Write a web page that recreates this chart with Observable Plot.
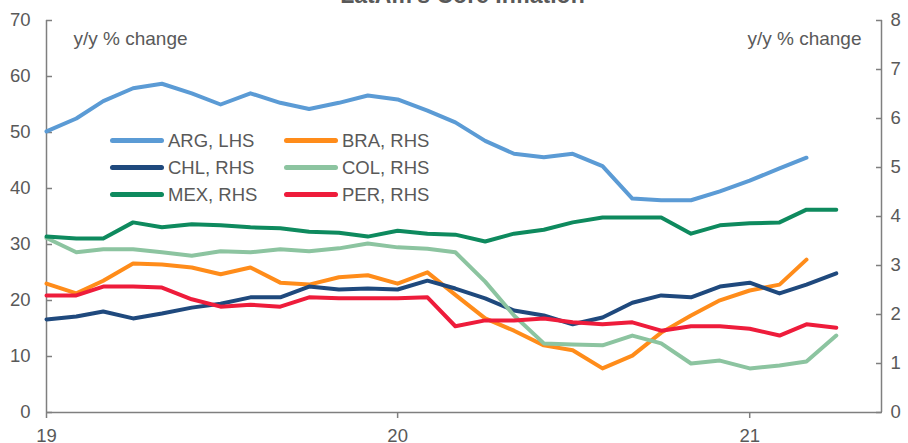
<!DOCTYPE html>
<html>
<head>
<meta charset="utf-8">
<script src="https://cdn.jsdelivr.net/npm/d3@7"></script>
<script src="https://cdn.jsdelivr.net/npm/@observablehq/plot@0.6"></script>
<style>
  body { margin: 0; background: #fff; }
  #wrap { position: relative; width: 908px; height: 443px; overflow: hidden; font-family: "Liberation Sans", Arial, sans-serif; }
  #wrap svg { position: absolute; left: 0; top: 0; }
  #legend { position: absolute; left: 110px; top: 127px; display: grid; grid-template-columns: 174px 174px; }
  .item { display: flex; align-items: center; height: 27px; font-size: 18.5px; color: #595959; }
  .sw { width: 54px; height: 5px; border-radius: 3px; margin-right: 4px; }
</style>
</head>
<body>
<div id="wrap"><div id="legend"></div></div>
<script>
// ---- data ----
const months = ["2019-01","2019-02","2019-03","2019-04","2019-05","2019-06","2019-07","2019-08","2019-09","2019-10","2019-11","2019-12",
                "2020-01","2020-02","2020-03","2020-04","2020-05","2020-06","2020-07","2020-08","2020-09","2020-10","2020-11","2020-12",
                "2021-01","2021-02","2021-03","2021-04"];
const arg = [50.2, 52.5, 55.6, 57.9, 58.7, 57.0, 55.0, 57.0, 55.3, 54.2, 55.3, 56.6, 55.9, 53.9, 51.8, 48.5, 46.2, 45.6, 46.2, 44.0, 38.2, 37.9, 37.9, 39.5, 41.4, 43.6, 45.5];
const bra = [2.63, 2.43, 2.69, 3.04, 3.02, 2.96, 2.82, 2.96, 2.65, 2.61, 2.76, 2.80, 2.63, 2.86, 2.40, 1.92, 1.67, 1.37, 1.27, 0.90, 1.16, 1.63, 1.98, 2.29, 2.49, 2.61, 3.12];
const chl = [1.90, 1.96, 2.06, 1.92, 2.02, 2.14, 2.22, 2.35, 2.35, 2.57, 2.51, 2.53, 2.51, 2.69, 2.53, 2.33, 2.08, 1.98, 1.80, 1.94, 2.24, 2.39, 2.35, 2.57, 2.65, 2.43, 2.61, 2.84];
const col = [3.56, 3.27, 3.33, 3.33, 3.27, 3.20, 3.29, 3.27, 3.33, 3.29, 3.35, 3.45, 3.37, 3.34, 3.27, 2.67, 1.98, 1.41, 1.39, 1.37, 1.57, 1.41, 1.00, 1.06, 0.90, 0.96, 1.04, 1.57];
const mex = [3.59, 3.55, 3.55, 3.88, 3.78, 3.84, 3.82, 3.78, 3.76, 3.69, 3.67, 3.59, 3.71, 3.65, 3.63, 3.49, 3.65, 3.73, 3.88, 3.98, 3.98, 3.98, 3.65, 3.82, 3.86, 3.88, 4.14, 4.14];
const per = [2.39, 2.39, 2.57, 2.57, 2.55, 2.31, 2.16, 2.20, 2.16, 2.35, 2.33, 2.33, 2.33, 2.35, 1.76, 1.88, 1.88, 1.92, 1.84, 1.80, 1.84, 1.67, 1.76, 1.76, 1.71, 1.57, 1.80, 1.73];

const seriesNames = ["ARG, LHS", "BRA, RHS", "CHL, RHS", "COL, RHS", "MEX, RHS", "PER, RHS"];
const seriesValues = [arg, bra, chl, col, mex, per];
const seriesAxis = ["L", "R", "R", "R", "R", "R"];
const seriesColors = ["#5b9bd5", "#ff8c1a", "#1f497d", "#8cc4a0", "#0e8a5e", "#ee1c3b"];

const leftTicks = [0, 10, 20, 30, 40, 50, 60, 70];
const rightTicks = [0, 1, 2, 3, 4, 5, 6, 7, 8];
const xTickLabels = ["19", "20", "21"];
const xTickDates = ["2019-01-01", "2020-01-01", "2021-01-01"];
const titleText = "LatAm's Core Inflation";
const unitLabel = "y/y % change";

// ---- build ----
const leftMax = 70, rightMax = 8;
const toLeft = v => v * leftMax / rightMax;
const rows = [];
seriesValues.forEach((vals, s) => vals.forEach((v, i) => rows.push({
  date: new Date(months[i] + "-01"),
  name: seriesNames[s],
  y: seriesAxis[s] === "L" ? v : toLeft(v)
})));
const xDomain = [new Date("2019-01-01"), new Date("2021-05-18")];
const axisStroke = "#7f7f7f", textFill = "#595959";
const xTicks = xTickDates.map(d => new Date(d));

const chart = Plot.plot({
  width: 908, height: 443,
  marginLeft: 46, marginRight: 27, marginTop: 20, marginBottom: 31,
  style: { fontFamily: '"Liberation Sans", Arial, sans-serif', fontSize: "18.5px", background: "transparent", overflow: "visible" },
  x: { type: "utc", domain: xDomain },
  y: { domain: [0, leftMax] },
  color: { domain: seriesNames, range: seriesColors },
  marks: [
    Plot.ruleX([xDomain[0]], { stroke: axisStroke, strokeWidth: 1.5 }),
    Plot.ruleX([xDomain[1]], { stroke: axisStroke, strokeWidth: 1.5 }),
    Plot.ruleY([0], { stroke: axisStroke, strokeWidth: 1.5 }),
    Plot.axisY({ ticks: leftTicks, tickSize: 6, dx: 6, tickFormat: () => "", label: null, stroke: axisStroke, strokeWidth: 1.5 }),
    Plot.axisY({ ticks: leftTicks, tickSize: 0, tickPadding: 16, label: null, fill: textFill }),
    Plot.axisY({ anchor: "right", ticks: rightTicks.map(toLeft), tickSize: 6, dx: -6, tickFormat: () => "", label: null, stroke: axisStroke, strokeWidth: 1.5 }),
    Plot.axisY({ anchor: "right", ticks: rightTicks.map(toLeft), tickSize: 0, tickPadding: 9, label: null, fill: textFill,
                 tickFormat: d => String(Math.round(d * rightMax / leftMax)) }),
    Plot.axisX({ ticks: xTicks, tickSize: 6, tickPadding: 10, label: null, stroke: axisStroke, strokeWidth: 1.5, fill: textFill,
                 tickFormat: d => xTickLabels[xTicks.findIndex(t => +t === +d)] }),
    Plot.line(rows, { x: "date", y: "y", z: "name", stroke: "name", strokeWidth: 4 }),
    Plot.text([unitLabel], { frameAnchor: "top-left", textAnchor: "start", dx: 27, dy: 11, fontSize: 19, fill: textFill }),
    Plot.text([unitLabel], { frameAnchor: "top-right", textAnchor: "end", dx: -20, dy: 11, fontSize: 19, fill: textFill }),
    Plot.text([titleText], { frameAnchor: "top", lineAnchor: "bottom", dx: -1.5, dy: -18, fontSize: 23, fontWeight: "bold", fill: textFill })
  ]
});
document.getElementById("wrap").prepend(chart);

const legend = document.getElementById("legend");
seriesNames.forEach((n, i) => {
  const it = document.createElement("div");
  it.className = "item";
  const sw = document.createElement("span");
  sw.className = "sw";
  sw.style.background = seriesColors[i];
  const tx = document.createElement("span");
  tx.textContent = n;
  it.appendChild(sw); it.appendChild(tx);
  legend.appendChild(it);
});
</script>
</body>
</html>
